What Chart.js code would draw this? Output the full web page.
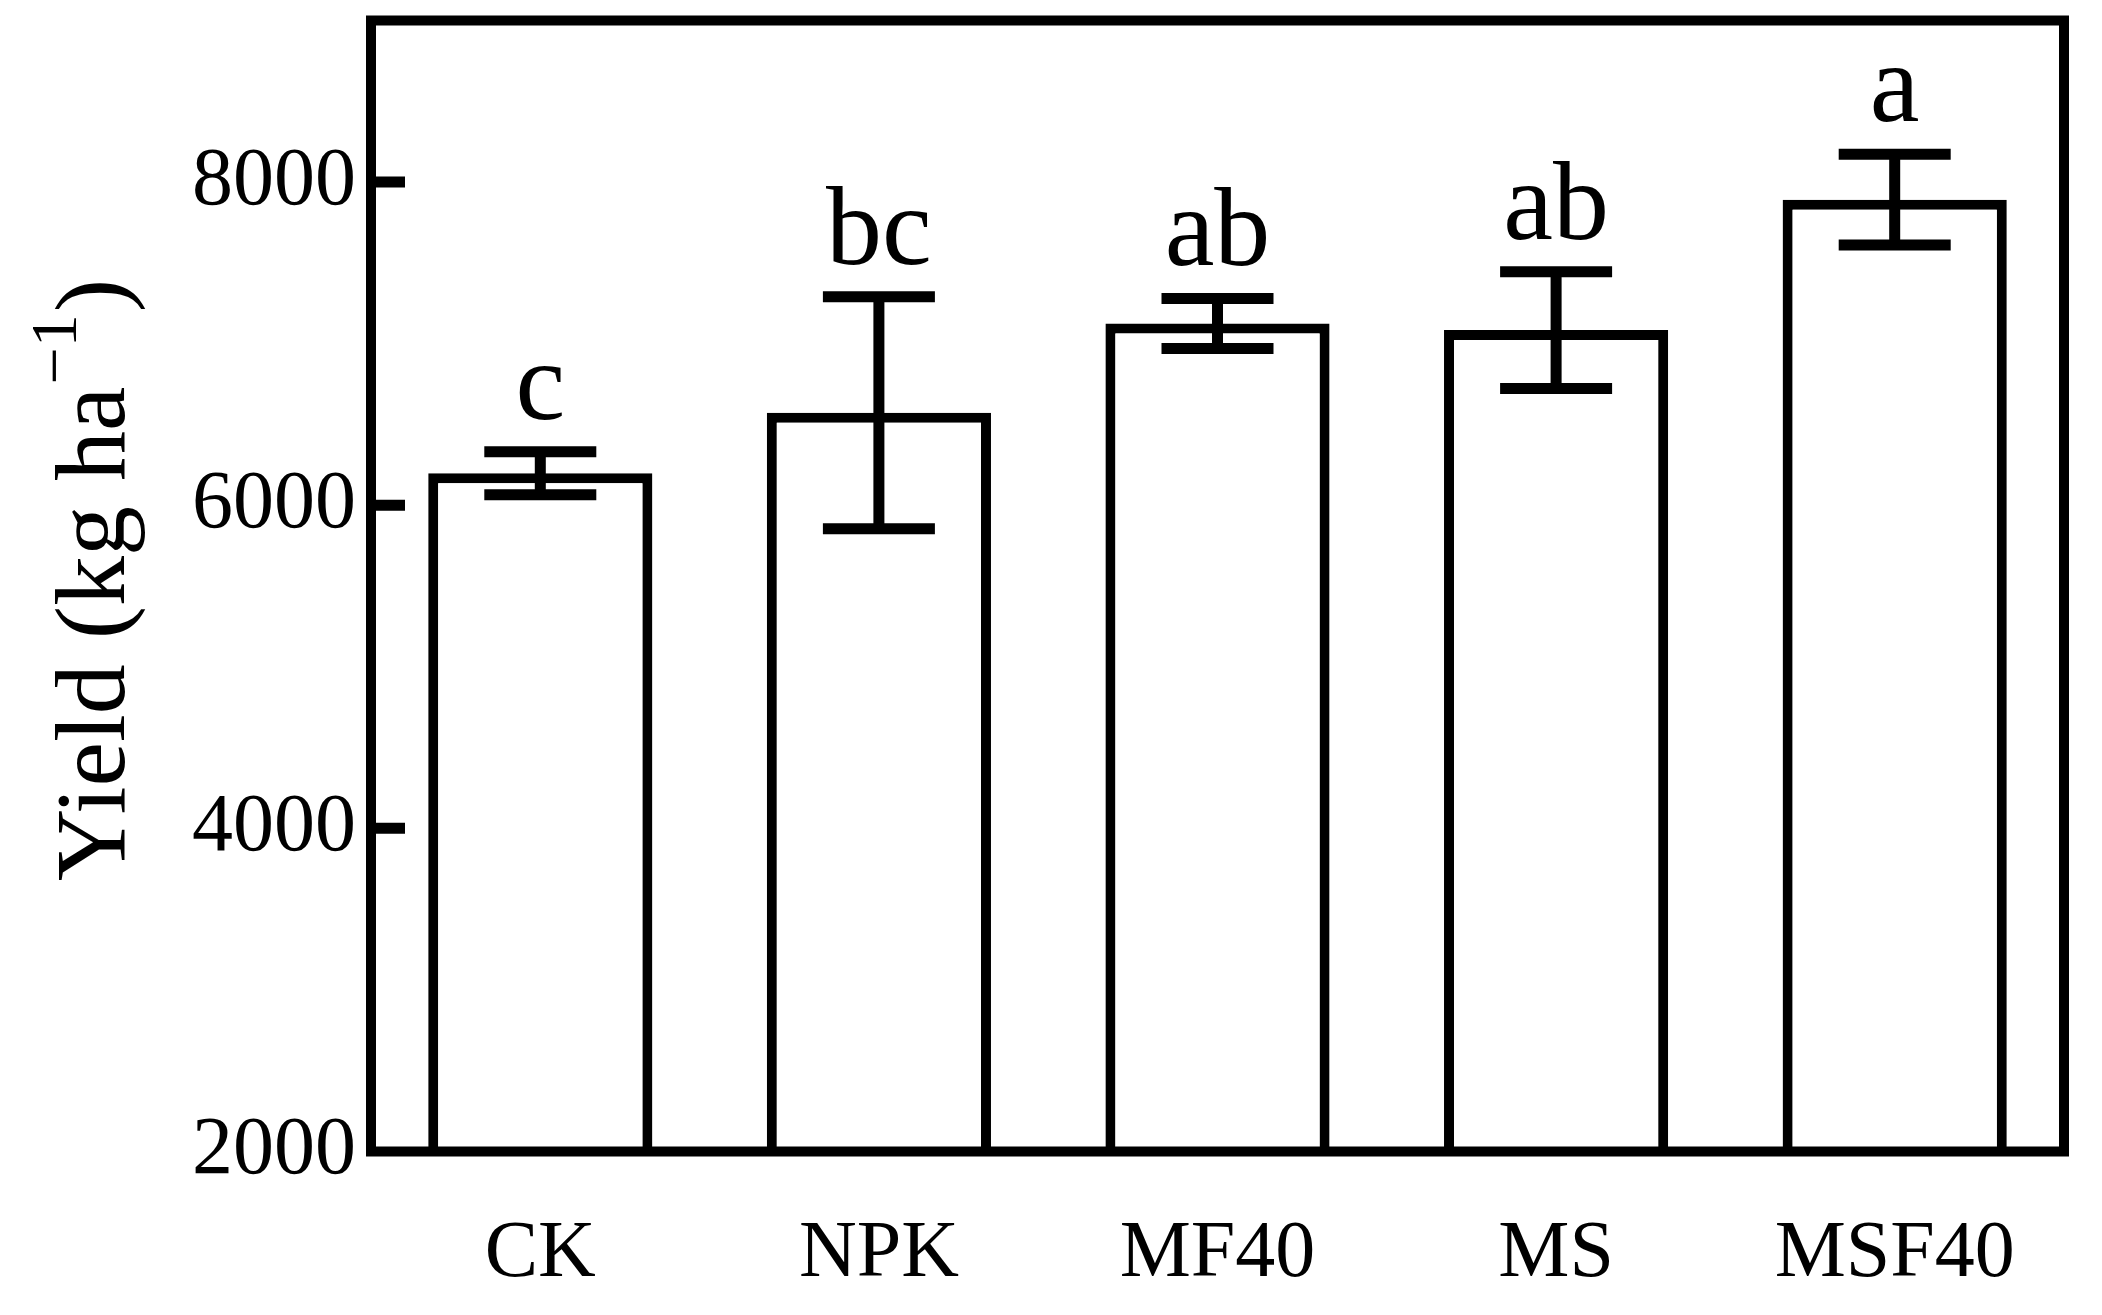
<!DOCTYPE html>
<html>
<head>
<meta charset="utf-8">
<title>Yield</title>
<script src="https://cdn.jsdelivr.net/npm/chart.js@4/dist/chart.umd.min.js"></script>
<style>
  html, body { margin: 0; padding: 0; background: #fff; }
  canvas { display: block; }
</style>
</head>
<body>
<canvas id="yieldChart" width="2102" height="1315"></canvas>
<script>
// Data
const treatments = ['CK', 'NPK', 'MF40', 'MS', 'MSF40'];
const yieldMean = [6198, 6573, 7125, 7084, 7891];
const yieldError = [133, 718, 155, 361, 281];
const sigLetters = ['c', 'bc', 'ab', 'ab', 'a'];
const yTicks = [2000, 4000, 6000, 8000];

const FONT = "'Liberation Serif', 'Times New Roman', serif";

// Box around the plot area plus inward tick marks on the left axis
const framePlugin = {
    id: 'frame',
    afterDraw(chart) {
        const { ctx, chartArea: a } = chart;
        const y = chart.scales.y;
        ctx.save();
        ctx.strokeStyle = '#000';
        ctx.lineWidth = 11;
        ctx.lineCap = 'butt';
        yTicks.slice(1).forEach(v => {
            const py = y.getPixelForValue(v);
            ctx.beginPath();
            ctx.moveTo(a.left, py);
            ctx.lineTo(a.left + 34, py);
            ctx.stroke();
        });
        ctx.lineWidth = 10;
        ctx.lineJoin = 'miter';
        ctx.strokeRect(a.left, a.top, a.right - a.left, a.bottom - a.top);
        ctx.restore();
    }
};

// Error bars and significance letters on top of each bar
const errorBarPlugin = {
    id: 'errorBars',
    afterDatasetsDraw(chart) {
        const { ctx } = chart;
        const y = chart.scales.y;
        const bars = chart.getDatasetMeta(0).data;
        ctx.save();
        ctx.strokeStyle = '#000';
        ctx.lineWidth = 11;
        ctx.lineCap = 'butt';
        bars.forEach((bar, i) => {
            const top = y.getPixelForValue(yieldMean[i] + yieldError[i]);
            const bottom = y.getPixelForValue(yieldMean[i] - yieldError[i]);
            const half = 56;
            ctx.beginPath();
            ctx.moveTo(bar.x, top);
            ctx.lineTo(bar.x, bottom);
            ctx.moveTo(bar.x - half, top);
            ctx.lineTo(bar.x + half, top);
            ctx.moveTo(bar.x - half, bottom);
            ctx.lineTo(bar.x + half, bottom);
            ctx.stroke();

            ctx.fillStyle = '#000';
            ctx.font = '112px ' + FONT;
            ctx.textAlign = 'center';
            ctx.textBaseline = 'alphabetic';
            ctx.fillText(sigLetters[i], bar.x, top - 33);
        });
        ctx.restore();
    }
};

// Rotated y-axis title with a superscript exponent
const yTitlePlugin = {
    id: 'yTitle',
    afterDraw(chart) {
        const { ctx } = chart;
        const main = 'Yield (kg ha';
        const sup = '\u22121';
        const close = ')';
        ctx.save();
        ctx.fillStyle = '#000';
        ctx.textBaseline = 'alphabetic';
        ctx.textAlign = 'left';
        ctx.font = '100px ' + FONT;
        const wMain = ctx.measureText(main).width;
        const wClose = ctx.measureText(close).width;
        ctx.font = '66px ' + FONT;
        const wSup = ctx.measureText(sup).width;
        const total = wMain + wSup + wClose + 4;
        ctx.translate(124, 580);
        ctx.rotate(-Math.PI / 2);
        let x = -total / 2;
        ctx.font = '100px ' + FONT;
        ctx.fillText(main, x, 0);
        x += wMain + 2;
        ctx.font = '66px ' + FONT;
        ctx.fillText(sup, x, -48);
        x += wSup + 2;
        ctx.font = '100px ' + FONT;
        ctx.fillText(close, x, 0);
        ctx.restore();
    }
};

const ctx = document.getElementById('yieldChart').getContext('2d');

new Chart(ctx, {
    type: 'bar',
    data: {
        labels: treatments,
        datasets: [{
            data: yieldMean,
            backgroundColor: '#fff',
            borderColor: '#000',
            borderWidth: 10,
            borderSkipped: false,
            barPercentage: 0.662,
            categoryPercentage: 1.0
        }]
    },
    options: {
        responsive: false,
        devicePixelRatio: 1,
        animation: false,
        layout: {
            padding: { left: 0, top: 20.5, right: 38, bottom: 0 }
        },
        plugins: {
            legend: { display: false },
            tooltip: { enabled: false }
        },
        scales: {
            x: {
                grid: { display: false, drawTicks: false },
                border: { display: false },
                ticks: {
                    color: '#000',
                    padding: 55,
                    font: { family: FONT, size: 80 }
                },
                afterFit(scale) {
                    scale.height = 163.5;
                    scale.paddingLeft = 0;
                    scale.paddingRight = 0;
                }
            },
            y: {
                min: 2000,
                max: 9000,
                grid: { display: false, drawTicks: false },
                border: { display: false },
                afterBuildTicks(scale) {
                    scale.ticks = yTicks.map(v => ({ value: v }));
                },
                ticks: {
                    color: '#000',
                    padding: 15,
                    font: { family: FONT, size: 82 },
                    callback: value => String(value)
                },
                afterFit(scale) {
                    scale.width = 371;
                    scale.paddingTop = 0;
                    scale.paddingBottom = 0;
                }
            }
        }
    },
    plugins: [framePlugin, errorBarPlugin, yTitlePlugin]
});
</script>
</body>
</html>
